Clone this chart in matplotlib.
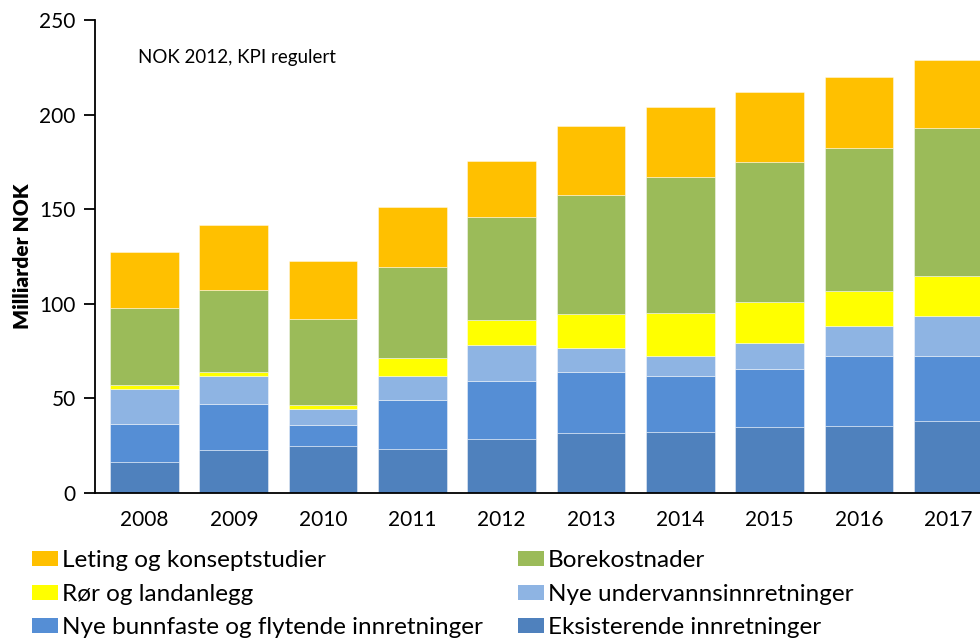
import matplotlib
matplotlib.use("Agg")
import matplotlib.pyplot as plt
from matplotlib.patches import Patch
import numpy as np

years = ["2008", "2009", "2010", "2011", "2012", "2013", "2014", "2015", "2016", "2017"]

eksisterende = [16.4, 22.9, 25.0, 23.4, 28.8, 31.7, 32.5, 34.7, 35.2, 37.8]
bunnfaste = [20.0, 24.1, 10.7, 25.9, 30.5, 32.4, 29.1, 31.1, 37.0, 34.4]
undervanns = [18.7, 14.6, 8.7, 12.3, 18.7, 12.3, 10.6, 13.4, 16.2, 21.5]
ror = [2.1, 2.1, 2.2, 9.5, 13.5, 18.0, 23.2, 21.5, 18.6, 21.1]
bore = [40.5, 43.7, 45.3, 48.6, 54.3, 62.9, 71.5, 74.1, 75.4, 78.0]
leting = [29.9, 34.0, 30.8, 31.5, 29.6, 36.7, 37.3, 37.0, 37.4, 36.1]

series = [
    ("Eksisterende innretninger", eksisterende, "#4F81BD"),
    ("Nye bunnfaste og flytende innretninger", bunnfaste, "#558ED5"),
    ("Nye undervannsinnretninger", undervanns, "#8EB4E3"),
    ("Rør og landanlegg", ror, "#FFFF00"),
    ("Borekostnader", bore, "#9BBB59"),
    ("Leting og konseptstudier", leting, "#FFC000"),
]

plt.rcParams['font.family'] = ['Lato', 'DejaVu Sans']

fig = plt.figure(figsize=(9.8, 6.41), dpi=100)
ax = fig.add_axes([95/980, 1 - 493/641, 1 - 95/980, (493 - 20)/641])

x = np.arange(len(years))
bottom = np.zeros(len(years))
handles = {}
for name, vals, col in series:
    ax.bar(x, vals, width=0.77, bottom=bottom, color=col, edgecolor=(1, 1, 1, 0.5), linewidth=0.6)
    bottom += np.array(vals)
    handles[name] = Patch(facecolor=col, edgecolor='none')

ax.set_xlim(-0.554, 9.356)
ax.set_ylim(0, 250)
ax.set_yticks([0, 50, 100, 150, 200, 250])
ax.set_xticks(x)
ax.set_xticklabels(years)
ax.tick_params(axis='y', labelsize=15, length=8, width=1.3, direction='out', pad=6)
ax.tick_params(axis='x', labelsize=15, length=0, pad=12)
for s in ['top', 'right']:
    ax.spines[s].set_visible(False)
ax.spines['left'].set_linewidth(1.3)
ax.spines['bottom'].set_linewidth(1.3)

ax.set_ylabel("Milliarder NOK", fontsize=15, fontweight='heavy', labelpad=5)
ax.text(138/980, 1 - 58/641, "NOK 2012, KPI regulert", transform=fig.transFigure,
        fontsize=13.5, va='center', ha='left')

col1 = ["Leting og konseptstudier", "Rør og landanlegg", "Nye bunnfaste og flytende innretninger"]
col2 = ["Borekostnader", "Nye undervannsinnretninger", "Eksisterende innretninger"]
common = dict(loc='upper left', frameon=False, fontsize=17.5, handlelength=1.07,
              handleheight=0.58, handletextpad=0.16, labelspacing=0.52,
              borderaxespad=0, borderpad=0)
leg1 = fig.legend([handles[n] for n in col1], col1, bbox_to_anchor=(32/980, 1 - 550/641), **common)
leg2 = fig.legend([handles[n] for n in col2], col2, bbox_to_anchor=(518/980, 1 - 550/641), **common)

fig.savefig("out.png", dpi=100)
